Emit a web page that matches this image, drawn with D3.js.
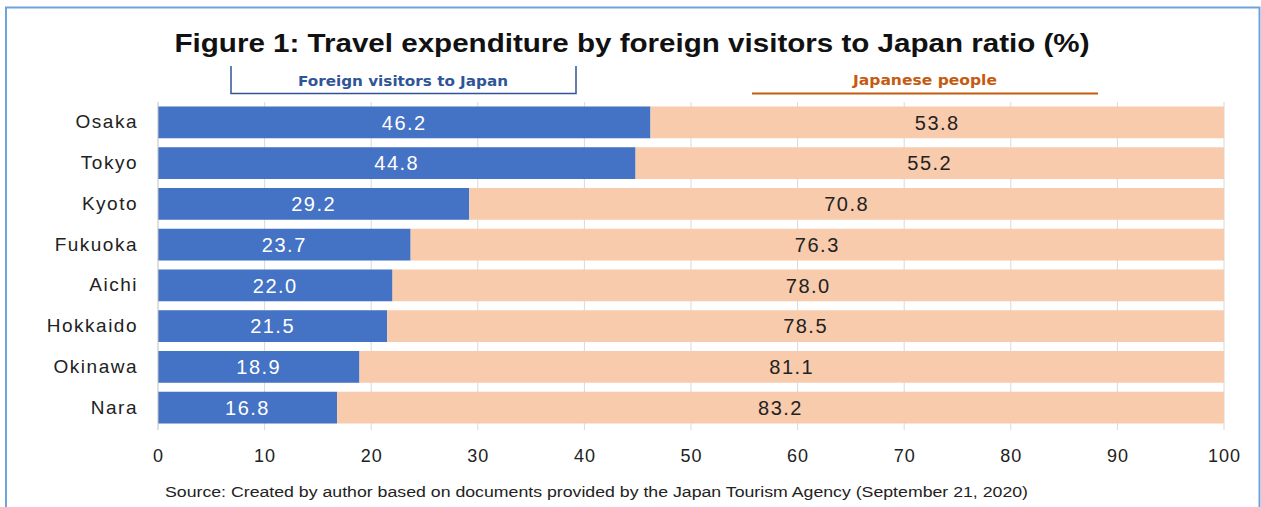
<!DOCTYPE html>
<html><head><meta charset="utf-8">
<script src="https://cdn.jsdelivr.net/npm/d3@7"></script>
<style>html,body{margin:0;padding:0;background:#fff;}svg{display:block;}</style>
</head><body>
<svg id="c" width="1261" height="507"></svg>
<script>
const categories = ["Osaka","Tokyo","Kyoto","Fukuoka","Aichi","Hokkaido","Okinawa","Nara"];
const foreignVisitors = [46.2,44.8,29.2,23.7,22.0,21.5,18.9,16.8];
const japanesePeople = [53.8,55.2,70.8,76.3,78.0,78.5,81.1,83.2];
const xTicks = [0,10,20,30,40,50,60,70,80,90,100];
const title = "Figure 1: Travel expenditure by foreign visitors to Japan ratio (%)";
const legendLabels = ["Foreign visitors to Japan","Japanese people"];
const source = "Source: Created by author based on documents provided by the Japan Tourism Agency (September 21, 2020)";

const svg = d3.select("#c");
const font = "Liberation Sans, Arial, sans-serif";

// frame
svg.append("path").attr("d","M6,507 V7.5 H1259.5 V507").attr("fill","none").attr("stroke","#6fa3dc").attr("stroke-width",2);

const x = d3.scaleLinear().domain([0,100]).range([158,1224]);
const y = d3.scaleBand().domain(categories).range([102,428]).paddingInner(0.22).paddingOuter(0.11);

// gridlines
svg.append("g").selectAll("line").data(xTicks.slice(1)).join("line")
  .attr("x1",d=>x(d)).attr("x2",d=>x(d)).attr("y1",102).attr("y2",430)
  .attr("stroke","#d9d9d9").attr("stroke-width",1);

const rows = categories.map((c,i)=>({c, a:foreignVisitors[i], b:japanesePeople[i]}));

svg.append("g").selectAll("rect").data(rows).join("rect")
  .attr("x",x(0)).attr("y",d=>y(d.c)).attr("width",d=>x(d.a)-x(0)).attr("height",y.bandwidth())
  .attr("fill","#4472c4");
svg.append("g").selectAll("rect").data(rows).join("rect")
  .attr("x",d=>x(d.a)).attr("y",d=>y(d.c)).attr("width",d=>x(d.a+d.b)-x(d.a)).attr("height",y.bandwidth())
  .attr("fill","#f8cbad");

// value labels
svg.append("g").selectAll("text").data(rows).join("text")
  .attr("x",d=>x(d.a/2)).attr("y",d=>y(d.c)+y.bandwidth()/2).attr("dy","0.36em")
  .attr("text-anchor","middle").attr("fill","#fff").attr("font-family",font).attr("font-size",20).attr("letter-spacing",1.5)
  .text(d=>d.a.toFixed(1));
svg.append("g").selectAll("text").data(rows).join("text")
  .attr("x",d=>x(d.a+d.b/2)).attr("y",d=>y(d.c)+y.bandwidth()/2).attr("dy","0.36em")
  .attr("text-anchor","middle").attr("fill","#222").attr("font-family",font).attr("font-size",20).attr("letter-spacing",1.5)
  .text(d=>d.b.toFixed(1));

// y axis
const ya = svg.append("g").attr("transform",`translate(${x(0)},0)`).call(d3.axisLeft(y).tickSize(0).tickPadding(20));
ya.select(".domain").attr("stroke","#bfbfbf").attr("d","M0,102V430");
ya.selectAll("text").attr("font-family",font).attr("font-size",19).attr("letter-spacing",1.5).attr("fill","#222");

// x axis
const xa = svg.append("g").attr("transform","translate(0,430)").call(d3.axisBottom(x).tickValues(xTicks).tickSize(0).tickPadding(19));
xa.select(".domain").remove();
xa.selectAll("text").attr("font-family",font).attr("font-size",18).attr("letter-spacing",1).attr("fill","#222");

// title
svg.append("text").attr("x",632).attr("y",52).attr("text-anchor","middle")
  .attr("font-family",font).attr("font-weight","bold").attr("font-size",25)
  .attr("textLength",915).attr("lengthAdjust","spacingAndGlyphs").attr("fill","#111").text(title);

// legend brackets
svg.append("path").attr("d","M231,66V93.5H576V66").attr("fill","none").attr("stroke","#2f5597").attr("stroke-width",1.5);
svg.append("text").attr("x",403).attr("y",86).attr("text-anchor","middle").attr("font-family","DejaVu Sans, sans-serif")
  .attr("font-weight","bold").attr("font-size",14).attr("textLength",210).attr("lengthAdjust","spacingAndGlyphs")
  .attr("fill","#2f5597").text(legendLabels[0]);
svg.append("line").attr("x1",752).attr("x2",1098).attr("y1",93.5).attr("y2",93.5).attr("stroke","#c55a11").attr("stroke-width",2);
svg.append("text").attr("x",925).attr("y",85).attr("text-anchor","middle").attr("font-family","DejaVu Sans, sans-serif")
  .attr("font-weight","bold").attr("font-size",14).attr("textLength",144).attr("lengthAdjust","spacingAndGlyphs")
  .attr("fill","#c55a11").text(legendLabels[1]);

// source
svg.append("text").attr("x",165).attr("y",497).attr("font-family",font).attr("font-size",14)
  .attr("textLength",863).attr("lengthAdjust","spacingAndGlyphs").attr("fill","#222").text(source);
</script>
</body></html>
